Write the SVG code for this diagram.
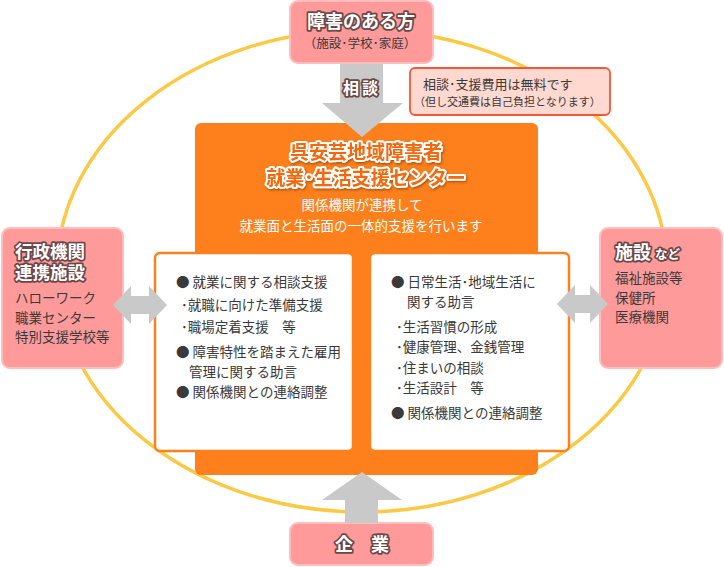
<svg xmlns="http://www.w3.org/2000/svg" width="724" height="567" viewBox="0 0 724 567">
<defs>
<style>
text{font-family:"Noto Sans CJK JP","Noto Sans",sans-serif;}
.pink{fill:#ff9a9a;stroke:#ffbdbd;stroke-width:2;}
.body{fill:#3a3a3a;font-size:13.5px;}
.ptitle{fill:#fff;stroke:#6b4848;stroke-width:3.5px;paint-order:stroke;stroke-linejoin:round;font-weight:bold;}
.ctitle{fill:#f4680c;stroke:#fff;stroke-width:4px;paint-order:stroke;stroke-linejoin:round;font-weight:bold;font-size:19px;}
.panel{fill:#fff;stroke:#fd801c;stroke-width:2.5;}
.arrow{fill:#c9c9c9;}
</style>
<filter id="sh" x="-10%" y="-30%" width="120%" height="160%">
<feDropShadow dx="1" dy="1.5" stdDeviation="1" flood-color="#6a3000" flood-opacity="0.55"/>
</filter>
</defs>
<rect width="724" height="567" fill="#fff"/>
<g id="ring">
<ellipse cx="362" cy="271" rx="305" ry="241" fill="none" stroke="#fdc843" stroke-width="3.5"/>
</g>
<g id="center">
<rect x="195" y="123" width="343" height="352" rx="6" fill="#fd801c"/>
<g filter="url(#sh)">
<text class="ctitle" x="366" y="159" text-anchor="middle">呉安芸地域障害者</text>
<text class="ctitle" x="366" y="185" text-anchor="middle">就業･生活支援センター</text>
</g>
<text x="362" y="210" text-anchor="middle" fill="#fff" font-size="13.5">関係機関が連携して</text>
<text x="361" y="231" text-anchor="middle" fill="#fff" font-size="13.5">就業面と生活面の一体的支援を行います</text>
</g>
<g id="panel-work">
<rect class="panel" x="155" y="253" width="198" height="198" rx="5"/>
<text class="body" x="176" y="287">● 就業に関する相談支援</text>
<text class="body" x="181" y="310">･就職に向けた準備支援</text>
<text class="body" x="181" y="332">･職場定着支援　等</text>
<text class="body" x="176" y="357">● 障害特性を踏まえた雇用</text>
<text class="body" x="189" y="377">管理に関する助言</text>
<text class="body" x="176" y="397">● 関係機関との連絡調整</text>
</g>
<g id="panel-life">
<rect class="panel" x="370" y="253" width="199" height="198" rx="5"/>
<text class="body" x="391" y="287">● 日常生活･地域生活に</text>
<text class="body" x="407" y="307">関する助言</text>
<text class="body" x="396" y="332">･生活習慣の形成</text>
<text class="body" x="396" y="352">･健康管理、金銭管理</text>
<text class="body" x="396" y="373">･住まいの相談</text>
<text class="body" x="396" y="393">･生活設計　等</text>
<text class="body" x="391" y="418">● 関係機関との連絡調整</text>
</g>
<g id="person">
<rect class="pink" x="290" y="1" width="143" height="62" rx="8"/>
<text class="ptitle" x="361" y="28" text-anchor="middle" font-size="18">障害のある方</text>
<text x="360" y="47.5" text-anchor="middle" fill="#3a3a3a" font-size="12.5">（施設･学校･家庭）</text>
</g>
<g id="note">
<rect x="410" y="68" width="200" height="47" rx="5" fill="#ffd8cf" stroke="#f2583a" stroke-width="1.8"/>
<text x="423" y="89" fill="#3a3a3a" font-size="13">相談･支援費用は無料です</text>
<text x="414" y="106" fill="#3a3a3a" font-size="11">（但し交通費は自己負担となります）</text>
</g>
<g id="gov">
<rect class="pink" x="2" y="228" width="121" height="140" rx="8"/>
<text class="ptitle" x="15" y="258" font-size="17.5">行政機関</text>
<text class="ptitle" x="15" y="279" font-size="17.5">連携施設</text>
<text class="body" x="15" y="303">ハローワーク</text>
<text class="body" x="15" y="323">職業センター</text>
<text class="body" x="15" y="342">特別支援学校等</text>
</g>
<g id="facility">
<rect class="pink" x="600" y="228" width="122" height="140" rx="8"/>
<text class="ptitle" x="615" y="258.5" font-size="18">施設<tspan font-size="12.5" dx="4">など</tspan></text>
<text class="body" x="615" y="283">福祉施設等</text>
<text class="body" x="615" y="303">保健所</text>
<text class="body" x="615" y="322">医療機関</text>
</g>
<g id="company">
<rect class="pink" x="290" y="523" width="143" height="42" rx="8"/>
<text class="ptitle" x="362" y="551" text-anchor="middle" font-size="18">企　業</text>
</g>
<g id="connectors">
<path class="arrow" d="M340,64 H383 V103 H403 L362,137 L322,103 H340 Z"/>
<text class="ptitle" x="362" y="94" text-anchor="middle" font-size="16" letter-spacing="3">相談</text>
<path class="arrow" d="M345,523 V500 H322 L362,472 L402,500 H378 V523 Z"/>
<path class="arrow" d="M113,305 L131,286 V296 H149 V286 L167,305 L149,324 V314 H131 V324 Z"/>
<path class="arrow" d="M557,304 L575,285 V295 H590 V285 L608,304 L590,323 V313 H575 V323 Z"/>
</g>
</svg>
